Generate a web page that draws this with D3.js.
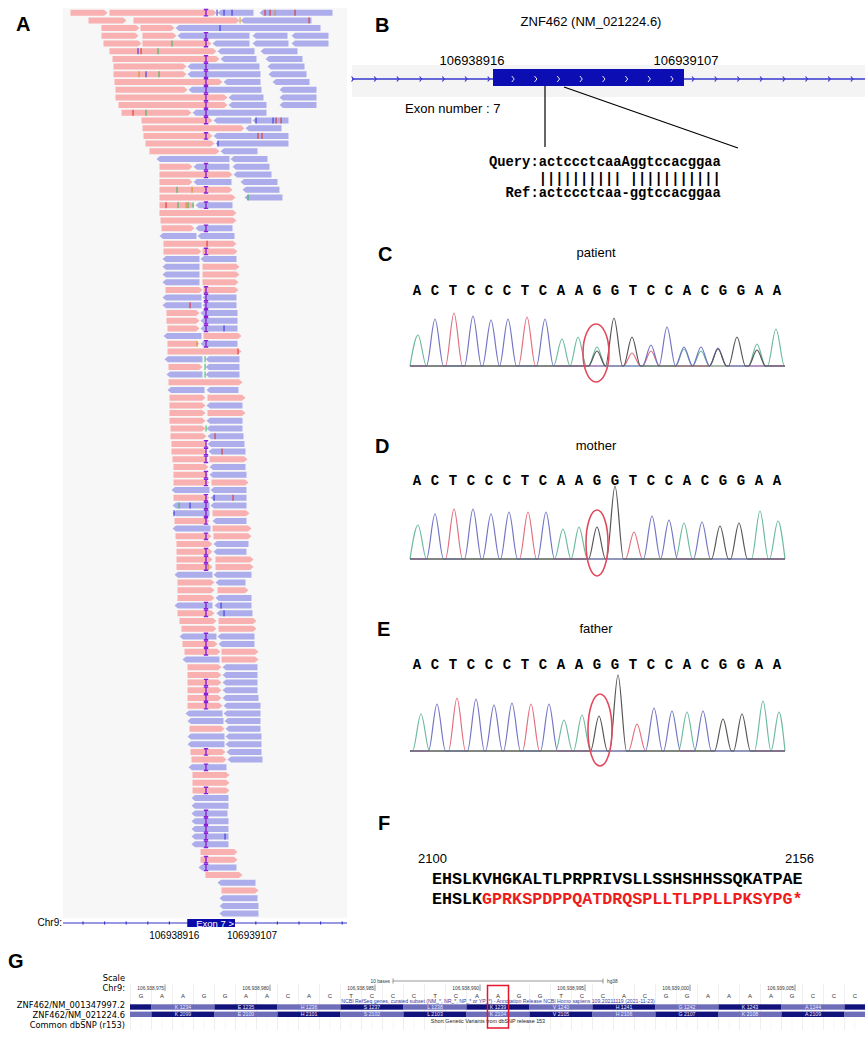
<!DOCTYPE html>
<html><head><meta charset="utf-8">
<script src="https://cdn.jsdelivr.net/npm/d3@7/dist/d3.min.js"></script>
<style>body{margin:0;background:#fff}svg{display:block}</style>
</head><body><svg id="c" width="865" height="1037"></svg>
<script>
// ---------------- DATA ----------------
// Panel A: IGV read pileup, read [start,end,strand] in bp relative to the insertion site
const readRows = [
[[-544,-392,'F'],[-388,44,'F'],[44,192,'R'],[212,508,'R']],
[[-472,-316,'F'],[-292,136,'F'],[136,424,'R']],
[[-420,-264,'F'],[-264,-124,'F'],[-124,460,'R']],
[[-420,-268,'F'],[-256,-116,'F'],[-116,176,'R'],[184,328,'R'],[340,492,'R']],
[[-412,-256,'F'],[-256,24,'F'],[24,176,'R'],[184,332,'R'],[340,492,'R']],
[[-388,44,'F'],[44,196,'R'],[216,368,'R']],
[[-376,56,'F'],[56,204,'R'],[236,388,'R']],
[[-372,-76,'F'],[-76,216,'R'],[244,396,'R']],
[[-372,-76,'F'],[-76,220,'R'],[248,404,'R']],
[[-368,68,'F'],[68,220,'R'],[264,416,'R']],
[[-364,-72,'F'],[-72,224,'R'],[292,444,'R']],
[[-364,88,'F'],[88,232,'R'],[292,444,'R']],
[[-352,88,'F'],[88,244,'R'],[292,444,'R']],
[[-340,-56,'F'],[-56,244,'R']],
[[-260,28,'F'],[28,184,'R'],[184,332,'R']],
[[-256,156,'F'],[156,304,'R']],
[[-252,28,'F'],[28,332,'R']],
[[-244,36,'F'],[36,332,'R']],
[[-228,56,'F'],[56,208,'R']],
[[-200,96,'R'],[96,248,'R']],
[[-188,-52,'F'],[-52,96,'R'],[104,256,'R']],
[[-188,108,'F'],[108,264,'R']],
[[-188,-52,'F'],[-52,104,'R'],[136,288,'R']],
[[-188,108,'F'],[144,296,'R']],
[[-188,120,'F'],[152,308,'R']],
[[-188,-44,'F'],[-44,108,'R']],
[[-188,124,'F']],
[[-184,124,'F']],
[[-180,-44,'F'],[-44,108,'R']],
[[-188,-36,'R'],[-36,116,'R']],
[[-172,124,'F']],
[[-172,-16,'F'],[-16,128,'F']],
[[-176,-24,'R'],[-24,124,'R']],
[[-176,-24,'R'],[-16,136,'F']],
[[-176,-24,'R'],[-16,136,'F']],
[[-176,-24,'R'],[-16,132,'F']],
[[-164,-12,'F'],[-12,132,'F']],
[[-176,-16,'R'],[-16,124,'R']],
[[-176,-16,'R'],[-16,124,'R']],
[[-160,-24,'F'],[-24,128,'R']],
[[-160,-24,'F'],[-24,128,'R']],
[[-156,-24,'F'],[-24,128,'R']],
[[-172,-16,'R'],[-12,144,'F']],
[[-156,-24,'F'],[-24,128,'R']],
[[-156,144,'F']],
[[-168,-12,'R'],[-4,136,'R']],
[[-152,-12,'F'],[-4,136,'R']],
[[-160,-12,'R'],[-4,136,'R']],
[[-152,148,'F']],
[[-156,-4,'R'],[0,132,'R']],
[[-148,0,'F'],[4,160,'F']],
[[-148,0,'F'],[0,148,'R']],
[[-148,0,'F'],[4,160,'F']],
[[-148,0,'F'],[0,148,'R']],
[[-144,0,'F'],[0,148,'R']],
[[-144,4,'F'],[4,152,'R']],
[[-140,4,'F'],[4,156,'R']],
[[-140,4,'F'],[8,160,'R']],
[[-136,8,'F'],[12,168,'F']],
[[-132,12,'F'],[12,160,'R']],
[[-132,12,'F'],[12,164,'R']],
[[-132,16,'F'],[20,172,'F']],
[[-140,16,'R'],[16,164,'R']],
[[-132,16,'F'],[16,164,'R']],
[[-136,16,'R'],[16,164,'R']],
[[-136,16,'R'],[24,176,'F']],
[[-128,16,'F'],[24,164,'R']],
[[-136,20,'R'],[24,184,'F']],
[[-124,24,'F'],[28,184,'F']],
[[-120,28,'F'],[28,172,'R']],
[[-120,28,'F'],[28,164,'R']],
[[-120,28,'F'],[36,192,'F']],
[[-120,28,'F'],[36,192,'F']],
[[-128,28,'R'],[28,184,'R']],
[[-116,36,'F'],[36,160,'R']],
[[-116,36,'F'],[44,172,'F']],
[[-116,36,'F'],[36,184,'R']],
[[-128,28,'R'],[32,184,'R']],
[[-116,36,'F'],[40,188,'R']],
[[-108,44,'F'],[48,204,'F']],
[[-100,44,'F'],[48,204,'F']],
[[-108,44,'R'],[44,196,'R']],
[[-96,48,'F'],[48,196,'R']],
[[-88,60,'F'],[60,212,'F']],
[[-96,56,'R'],[60,212,'F']],
[[-76,64,'F'],[64,208,'R']],
[[-76,64,'F'],[64,208,'R']],
[[-76,64,'F'],[64,208,'R']],
[[-76,64,'F'],[64,208,'R']],
[[-76,64,'F'],[64,212,'R']],
[[-76,68,'F'],[68,220,'R']],
[[-84,68,'R'],[68,220,'R']],
[[-76,72,'R'],[72,220,'R']],
[[-68,76,'F'],[76,220,'R']],
[[-76,76,'R'],[76,224,'R']],
[[-76,76,'R'],[76,224,'R']],
[[-64,80,'F'],[80,224,'R']],
[[-60,84,'F'],[84,228,'R']],
[[-72,84,'R']],
[[-56,96,'F']],
[[-56,96,'F']],
[[-56,96,'F']],
[[-60,92,'R']],
[[-60,92,'R']],
[[-60,88,'R']],
[[-60,92,'R']],
[[-60,92,'R']],
[[-60,92,'R']],
[[-60,92,'R']],
[[-24,128,'F']],
[[-24,128,'F']],
[[-32,124,'R']],
[[-4,148,'F']],
[[44,200,'R']],
[[60,212,'F']],
[[52,208,'R']],
[[52,212,'R']],
[[52,212,'R']]
];
const insertionRows = [0,3,4,6,7,8,9,10,11,12,13,14,16,20,21,23,25,28,31,36,37,38,39,40,41,43,56,57,58,60,61,63,64,65,66,68,70,71,72,77,78,81,82,83,87,88,89,90,96,98,101,104,105,106,107,108,110,111];
// mismatches [row, position, base]
const mismatches = [
[0,44,'C'],[0,72,'C'],[0,104,'C'],[0,236,'T'],[0,256,'T'],[0,276,'G'],[0,356,'T'],
[1,136,'G'],[1,412,'T'],[2,56,'C'],[4,-136,'A'],[5,-272,'C'],[5,-260,'T'],[5,-192,'A'],
[8,-268,'G'],[8,-240,'C'],[8,-188,'A'],[13,-292,'T'],[13,-240,'A'],
[14,200,'C'],[14,268,'C'],[14,280,'T'],[14,300,'T'],[16,208,'T'],[16,224,'T'],[17,48,'C'],
[23,-116,'A'],[23,-56,'G'],[24,168,'A'],[25,-160,'T'],[25,-112,'A'],[25,-80,'G'],[25,-72,'A'],[25,-52,'A'],
[30,4,'T'],[38,-64,'T'],[41,72,'C'],[43,-36,'G'],[44,128,'T'],[45,-4,'A'],[46,-4,'A'],[47,-4,'A'],
[54,0,'A'],[55,36,'T'],[57,64,'T'],[63,32,'C'],[63,108,'T'],[64,-108,'A'],[64,-64,'C'],[65,-128,'C'],
[72,8,'G'],[77,60,'C'],[78,72,'C'],[107,76,'C']
];
const exonA = [-75, 116];           // exon 7 in bp relative to insertion
const exonLabels = ['106938916','106939107'];

// Panel B
const exonB = [106938916, 106939107];
const zoomRegionB = [106938968, 106938987];
const queryText = 'Query:actccctcaaAggtccacggaa';
const matchText = '|||||||||| |||||||||||';
const refText = 'Ref:actccctcaa-ggtccacggaa';

// Panels C-E: Sanger chromatograms
const seqLetters = ['A','C','T','C','C','C','T','C','A','A','G','G','T','C','C','A','C','G','G','A','A'];
const patientPeaks = [[8,'A',31],[25,'C',47],[44,'T',53],[63,'C',50],[81,'C',46],[98,'C',47],[117,'T',49],[135,'C',47],
  [152,'A',27],[168,'A',29],[187,'A',19],[187,'G',15],[204,'G',48],[222,'G',29],[222,'T',13],[241,'C',21],[241,'T',15],
  [257,'C',39],[274,'C',19],[274,'A',17],[291,'C',19],[291,'A',15],[308,'C',18],[308,'G',17],[327,'G',29],
  [347,'A',22],[347,'G',16],[366,'A',37]];
const motherPos = [8,25,44,63,81,99,118,136,153,169,187,205,224,242,259,274,292,310,329,350,368];
const motherHeights = [34,45,50,50,45,47,47,47,30,32,32,73,27,43,39,36,37,33,36,48,38];
const fatherPos = [11,27,47,66,84,102,121,139,154,172,189,208,227,244,262,277,293,313,332,353,369];
const fatherHeights = [37,47,53,52,46,48,47,47,31,36,35,76,27,43,40,39,40,32,37,50,39];

// Panel F
const protStart = '2100', protEnd = '2156';
const wtProtein = 'EHSLKVHGKALTLPRPRIVSLLSSHSHHSSQKATPAE';
const mutKept = 'EHSLK';
const mutNew = 'GPRKSPDPPQATDRQSPLLTLPPLLPKSYPG*';

// Panel G: UCSC browser
const gBases = ['G','A','A','G','G','A','A','C','A','C','T','C','C','C','T','C','A','A','G','G','T','C','C','A','C','G','G','A','A','A','A','G','C','C','C'];
const gFirstPos = 106938974;
const gTicks = [106938975,106938980,106938985,106938990,106938995,106939000,106939005];
const codonStart = 106938975;
const aa1 = ['K 1234','E 1235','H 1236','S 1237','L 1238','K 1239','V 1240','H 1241','G 1242','K 1243','A 1244'];
const aa2 = ['K 2099','E 2100','H 2101','S 2102','L 2103','K 2104','V 2105','H 2106','G 2107','K 2108','A 2109'];
const variantPos = 106938991;
const trackLabels = ['Scale','Chr9:','ZNF462/NM_001347997.2','ZNF462/NM_021224.6','Common dbSNP (r153)'];

// ---------------- DRAW ----------------
const svg = d3.select('#c');
const SANS = "'Liberation Sans', Arial, sans-serif";
const MONO = "'Liberation Mono', 'Courier New', monospace";
function txt(g, s, x, y, size, opt={}) {
  return g.append('text').attr('x',x).attr('y',y).attr('font-family',opt.family||SANS)
    .attr('font-size',size).attr('font-weight',opt.weight||'normal').attr('fill',opt.fill||'#000')
    .attr('text-anchor',opt.anchor||'start').text(s);
}
// panel letters
[['A',16,31],['B',375,32],['C',378,261],['D',375,453],['E',377,636],['F',378,830],['G',8,968]].forEach(([l,x,y])=>
  txt(svg,l,x,y,20,{weight:'bold'}));

// ---- Panel A ----
const gA = svg.append('g');
const xA = d3.scaleLinear().domain([-564,564]).range([65,347]);
const yA = d3.scaleLinear().domain([0,117]).range([12.7,913.6]);
gA.append('rect').attr('x',63).attr('y',8).attr('width',284).attr('height',910).attr('fill','#f7f7f7');
const baseCol = {A:'#36b85a',C:'#3535e0',G:'#d0962a',T:'#e23030'};
readRows.forEach((row,i)=>{
  const cy = yA(i), t = 3, a = 3.5;
  row.forEach(([s,e,st])=>{
    const x1 = xA(s)+0.5, x2 = xA(e)-0.5;
    const pts = st==='F'
      ? [[x1,cy-t],[x2-a,cy-t],[x2,cy],[x2-a,cy+t],[x1,cy+t]]
      : [[x1+a,cy-t],[x2,cy-t],[x2,cy+t],[x1+a,cy+t],[x1,cy]];
    gA.append('polygon').attr('points',pts.map(p=>p.join(',')).join(' '))
      .attr('fill', st==='F' ? '#f9b0b0' : '#adadec');
  });
});
mismatches.forEach(([r,p,b])=>{
  gA.append('rect').attr('x',xA(p)-0.6).attr('y',yA(r)-3).attr('width',1.3).attr('height',6)
    .attr('fill',baseCol[b]).attr('opacity',0.8);
});
insertionRows.forEach(r=>{
  const x = xA(0), cy = yA(r);
  gA.append('path').attr('d',`M${x-2.2},${cy-3.2}H${x+2.2}M${x},${cy-3.2}V${cy+3.2}M${x-2.2},${cy+3.2}H${x+2.2}`)
    .attr('stroke','#8a1fd8').attr('stroke-width',1.4).attr('fill','none');
});
// chr9 gene track
const chrY = 923;
gA.append('line').attr('x1',63).attr('x2',347).attr('y1',chrY).attr('y2',chrY).attr('stroke','#3434c8').attr('stroke-width',1.2);
d3.range(xA(-564)+18, 347, 21.6).forEach(x=>{
  if (x > xA(exonA[0]) && x < xA(exonA[1])) return;
  gA.append('line').attr('x1',x).attr('x2',x).attr('y1',chrY-1.5).attr('y2',chrY+1.5).attr('stroke','#3434c8').attr('stroke-width',1.2);
});
gA.append('rect').attr('x',xA(exonA[0])).attr('y',chrY-4).attr('width',xA(exonA[1])-xA(exonA[0])).attr('height',8).attr('fill','#0a0aa8');
txt(gA,'Exon 7 >',(xA(exonA[0])+xA(exonA[1]))/2+4,chrY+3.5,9.5,{anchor:'middle',fill:'#fff'});
txt(gA,'Chr9:',62,chrY+3,10,{anchor:'end'});
txt(gA,exonLabels[0],xA(exonA[0])-13,939,10,{anchor:'middle'});
txt(gA,exonLabels[1],xA(exonA[1])+17,939,10,{anchor:'middle'});

// ---- Panel B ----
const gB = svg.append('g');
const xB = d3.scaleLinear().domain(exonB).range([493,684]);
txt(gB,'ZNF462 (NM_021224.6)',591,26,13,{anchor:'middle'});
gB.append('rect').attr('x',352).attr('y',65).attr('width',513).attr('height',32).attr('fill','#f4f4f4');
const lineY = 79;
gB.append('line').attr('x1',352).attr('x2',865).attr('y1',lineY).attr('y2',lineY).attr('stroke','#3838d0').attr('stroke-width',1.5);
d3.range(353, 865, 22.7).forEach(x=>{
  if (x > xB(exonB[0]) - 2 && x < xB(exonB[1]) + 2) return;
  gB.append('path').attr('d',`M${x-1.5},${lineY-2.5}L${x+0.5},${lineY}L${x-1.5},${lineY+2.5}`).attr('stroke','#3838d0').attr('fill','none').attr('stroke-width',1.2);
});
gB.append('rect').attr('x',xB(exonB[0])).attr('y',69).attr('width',xB(exonB[1])-xB(exonB[0])).attr('height',17).attr('fill','#0d0db4');
d3.range(xB(exonB[0])+20, xB(exonB[1])-5, 22.7).forEach(x=>{
  gB.append('path').attr('d',`M${x-1.2},${lineY-3}L${x+1.2},${lineY}L${x-1.2},${lineY+3}`).attr('stroke','#ffffff').attr('fill','none').attr('stroke-width',0.9);
});
txt(gB,exonLabels[0],xB(exonB[0])-21,65,13,{anchor:'middle'});
txt(gB,exonLabels[1],xB(exonB[1])+2,65,13,{anchor:'middle'});
txt(gB,'Exon number : 7',405,113,13);
gB.append('line').attr('x1',xB(zoomRegionB[0])).attr('x2',xB(zoomRegionB[0])).attr('y1',86).attr('y2',147).attr('stroke','#000').attr('stroke-width',1.2);
gB.append('line').attr('x1',xB(zoomRegionB[1])).attr('x2',738).attr('y1',87).attr('y2',148).attr('stroke','#000').attr('stroke-width',1.2);
const cw = 8.28;
txt(gB,queryText,489,166,13.8,{family:MONO,weight:'bold'});
txt(gB,matchText,489+6*cw,183,13.8,{family:MONO,weight:'bold'});
txt(gB,refText,489+2*cw,197,13.8,{family:MONO,weight:'bold'});

// ---- Panels C-E ----
const chanColor = {A:'#6cbb9e',C:'#7474c6',G:'#555555',T:'#e16f7f'};
const xs = d3.scaleLinear().domain([0,375]).range([410,785]);
const letterX = d3.scaleLinear().domain([0,20]).range([417,777]);
function tracePoints(peaks, w) {
  peaks = peaks.slice().sort((a,b)=>a[0]-b[0]);
  const pts = [[0,0]];
  peaks.forEach((p,i)=>{
    const prev = peaks[i-1], next = peaks[i+1];
    if (!(prev && p[0]-prev[0] <= 2*w) && p[0]-w > 0) pts.push([p[0]-w,0]);
    pts.push([p[0],p[1]]);
    if (next && next[0]-p[0] <= 2*w) pts.push([(p[0]+next[0])/2,0]);
    else if (p[0]+w < 375) pts.push([p[0]+w,0]);
  });
  pts.push([375,0]);
  return pts.filter((p,i,arr)=> i===0 || p[0] > arr[i-1][0]);
}
function drawChrom(title, titleY, letterY, baseY, peaks, ell) {
  const g = svg.append('g');
  txt(g,title,596,titleY,13,{anchor:'middle'});
  seqLetters.forEach((l,i)=> txt(g,l,letterX(i),letterY,14,{family:MONO,weight:'bold',anchor:'middle'}));
  const ys = d3.scaleLinear().domain([0,80]).range([baseY,baseY-80]);
  const line = d3.line().x(d=>xs(d[0])).y(d=>ys(d[1])).curve(d3.curveMonotoneX);
  ['T','A','C','G'].forEach(b=>{
    const pk = peaks.filter(p=>p[1]===b).map(p=>[p[0],p[2]]);
    g.append('path').attr('d',line(tracePoints(pk,8.5))).attr('fill','none')
      .attr('stroke',chanColor[b]).attr('stroke-width',1.2);
  });
  g.append('ellipse').attr('cx',ell[0]).attr('cy',ell[1]).attr('rx',ell[2]).attr('ry',ell[3])
    .attr('fill','none').attr('stroke','#e04a5c').attr('stroke-width',1.6);
}
drawChrom('patient',257,295,366,patientPeaks,[596,353,13,29]);
drawChrom('mother',450,485,559,seqLetters.map((b,i)=>[motherPos[i],b,motherHeights[i]]),[597,543,11,33]);
drawChrom('father',633,669,751,seqLetters.map((b,i)=>[fatherPos[i],b,fatherHeights[i]]),[600,730,12,36]);

// ---- Panel F ----
const gF = svg.append('g');
txt(gF,protStart,418,863,13);
txt(gF,protEnd,814,863,13,{anchor:'end'});
txt(gF,wtProtein,432,884,16.7,{family:MONO,weight:'bold'});
const t2 = txt(gF,'',432,904,16.7,{family:MONO,weight:'bold'});
t2.append('tspan').text(mutKept);
t2.append('tspan').attr('fill','#ee1c1c').text(mutNew);

// ---- Panel G ----
const gG = svg.append('g');
const xG = d3.scaleLinear().domain([gFirstPos, gFirstPos+34]).range([141,855]);
const bw = 21;
const labelYs = [981,990.5,1008,1017.5,1027.5];
trackLabels.forEach((l,i)=> txt(gG,l,125,labelYs[i],8.3,{anchor:'end',family:"'DejaVu Sans', sans-serif"}));
// faint grid
gBases.forEach((b,i)=>{
  const x = xG(gFirstPos+i) - bw/2;
  gG.append('line').attr('x1',x).attr('x2',x).attr('y1',984).attr('y2',1030).attr('stroke','#e4e4e4').attr('stroke-width',0.6);
  gG.append('line').attr('x1',x+bw/2).attr('x2',x+bw/2).attr('y1',1018).attr('y2',1030).attr('stroke','#ececec').attr('stroke-width',0.5);
});
// ruler
const r0 = xG(106938986), r1 = xG(106938996);
txt(gG,'10 bases',r0-3,982.5,4.8,{anchor:'end',fill:'#333'});
gG.append('path').attr('d',`M${r0},978.5V983.5M${r0},981H${r1}M${r1},978.5V983.5`).attr('stroke','#555').attr('stroke-width',0.6).attr('fill','none');
txt(gG,'hg38',r1+4,982.5,4.8,{fill:'#333'});
gTicks.forEach(t=>{
  const x = xG(t)+3;
  txt(gG,d3.format(',')(t),x-1,990,4.8,{anchor:'end',fill:'#333'});
  gG.append('line').attr('x1',x).attr('x2',x).attr('y1',984.5).attr('y2',991).attr('stroke','#444').attr('stroke-width',0.6);
});
gBases.forEach((b,i)=> txt(gG,b,xG(gFirstPos+i),997.5,6,{anchor:'middle',fill:'#333'}));
txt(gG,'NCBI RefSeq genes, curated subset (NM_*, NR_*, NP_* or YP_*) - Annotation Release NCBI Homo sapiens 109.20211119 (2021-11-23)',498,1003,5.2,{anchor:'middle',fill:'#3a3a9a'});
// gene tracks
gG.append('clipPath').attr('id','gclip').append('rect').attr('x',130).attr('y',1000).attr('width',735).attr('height',20);
const tracks = gG.append('g').attr('clip-path','url(#gclip)');
[[aa1,1004.3,0],[aa2,1011.6,1]].forEach(([labels,y,phase])=>{
  for (let k=-1; k<=labels.length; k++) {
    const s = codonStart + 3*k;
    const x0 = xG(s) - bw/2, x1 = xG(s+2) + bw/2;
    const dark = ((k+1+phase) % 2) === 0;
    tracks.append('rect').attr('x',x0).attr('y',y).attr('width',x1-x0).attr('height',5.4)
      .attr('fill', dark ? '#12127c' : '#6d6dba');
    if (k>=0 && k<labels.length)
      tracks.append('text').attr('x',(x0+x1)/2).attr('y',y+4.3).attr('text-anchor','middle')
        .attr('font-family',SANS).attr('font-size',5.2).attr('fill','#e8e8ff').text(labels[k]);
  }
});
txt(gG,'Short Genetic Variants from dbSNP release 153',488,1023,5.4,{anchor:'middle',fill:'#222'});
gG.append('rect').attr('x',xG(variantPos)-bw/2).attr('y',985.5).attr('width',bw).attr('height',42.5)
  .attr('fill','none').attr('stroke','#e5162a').attr('stroke-width',1.5);
</script></body></html>
